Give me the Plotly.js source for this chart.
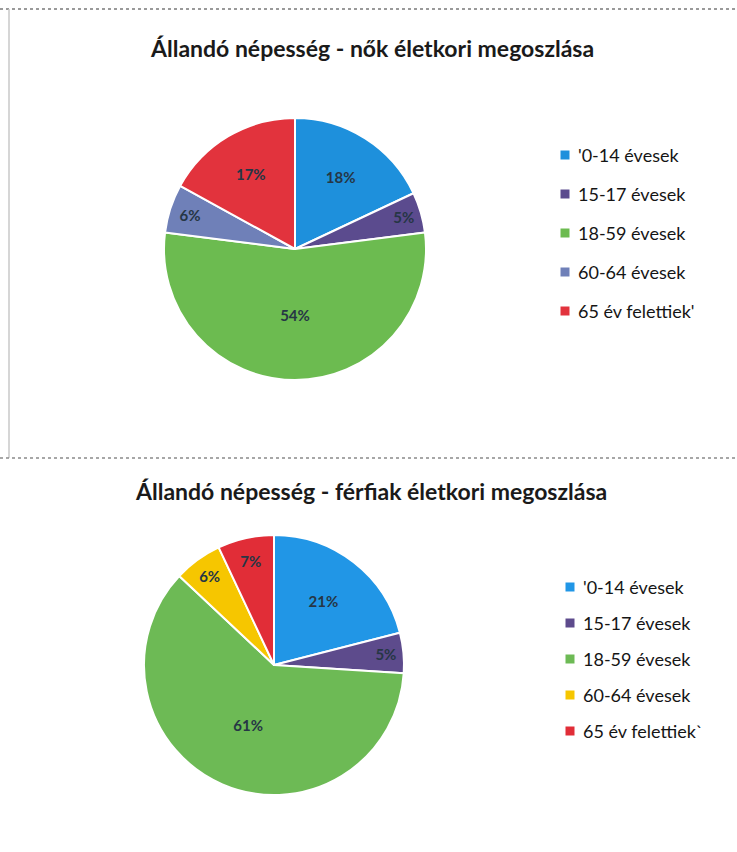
<!DOCTYPE html>
<html>
<head>
<meta charset="utf-8">
<script src="https://cdn.plot.ly/plotly-3.0.1.min.js"></script>
<style>html,body{margin:0;padding:0;background:#fff;}#chart{width:737px;height:852px;}</style>
</head>
<body>
<div id="chart"></div>
<script>
const categoriesWomen = ["'0-14 évesek", "15-17 évesek", "18-59 évesek", "60-64 évesek", "65 év felettiek'"];
const valuesWomen = [18, 5, 54, 6, 17];
const colorsWomen = ["#1e90dc", "#5b4b8e", "#6cbb50", "#6f80b8", "#e2333d"];

const categoriesMen = ["'0-14 évesek", "15-17 évesek", "18-59 évesek", "60-64 évesek", "65 év felettiek`"];
const valuesMen = [21, 5, 61, 6, 7];
const colorsMen = ["#2196e6", "#5d4b8c", "#6dba55", "#f6c600", "#e12d37"];

const titleWomen = "Állandó népesség - nők életkori megoszlása";
const titleMen = "Állandó népesség - férfiak életkori megoszlása";

const W = 737, H = 852;
const px = x => x / W;
const py = y => 1 - y / H;

function pieTrace(labels, values, colors, cx, cy, r) {
  return {
    type: 'pie', labels: labels, values: values, sort: false,
    direction: 'clockwise', rotation: 0,
    marker: {colors: colors, line: {color: '#ffffff', width: 2}},
    textinfo: 'percent', textposition: 'inside', insidetextorientation: 'horizontal',
    texttemplate: '<b>%{percent:.0%}</b>',
    textfont: {family: 'Lato, sans-serif', size: 15, color: '#263645'},
    showlegend: false, hoverinfo: 'label+percent',
    domain: {x: [px(cx - r), px(cx + r)], y: [py(cy + r), py(cy - r)]}
  };
}

const data = [
  pieTrace(categoriesWomen, valuesWomen, colorsWomen, 295, 249, 131),
  pieTrace(categoriesMen, valuesMen, colorsMen, 274, 665, 130)
];

const annotations = [
  {text: '<b>' + titleWomen + '</b>', x: px(372), y: py(48), xref: 'paper', yref: 'paper', showarrow: false,
   xanchor: 'center', yanchor: 'middle', font: {family: 'Lato, sans-serif', size: 23, color: '#1a1a1a'}},
  {text: '<b>' + titleMen + '</b>', x: px(371), y: py(491), xref: 'paper', yref: 'paper', showarrow: false,
   xanchor: 'center', yanchor: 'middle', font: {family: 'Lato, sans-serif', size: 23, color: '#1a1a1a'}}
];
const shapes = [];

function legend(labels, colors, mx, tx, y0, dy) {
  labels.forEach((lab, i) => {
    const y = y0 + i * dy;
    shapes.push({type: 'rect', xref: 'paper', yref: 'paper', x0: px(mx - 4.5), x1: px(mx + 4.5),
      y0: py(y + 4.5), y1: py(y - 4.5), fillcolor: colors[i], line: {width: 0}});
    annotations.push({text: lab, x: px(tx), y: py(y), xref: 'paper', yref: 'paper', showarrow: false,
      xanchor: 'left', yanchor: 'middle', font: {family: 'Lato, sans-serif', size: 18, color: '#151515'}});
  });
}
legend(categoriesWomen, colorsWomen, 565, 576, 155, 39);
legend(categoriesMen, colorsMen, 570, 581, 587, 36);

// scanned frame around first chart
shapes.push({type: 'line', xref: 'paper', yref: 'paper', x0: px(0), x1: px(737), y0: py(9), y1: py(9), line: {color: '#7a7a7a', width: 1.5, dash: 'dot'}});
shapes.push({type: 'line', xref: 'paper', yref: 'paper', x0: px(9), x1: px(9), y0: py(9), y1: py(458), line: {color: '#c8c8c8', width: 1.5}});
shapes.push({type: 'line', xref: 'paper', yref: 'paper', x0: px(0), x1: px(737), y0: py(458), y1: py(458), line: {color: '#8a8a8a', width: 1.5, dash: 'dot'}});

const layout = {
  width: W, height: H, margin: {l: 0, r: 0, t: 0, b: 0},
  paper_bgcolor: '#ffffff', plot_bgcolor: '#ffffff',
  showlegend: false, annotations: annotations, shapes: shapes,
  font: {family: 'Lato, sans-serif'}
};
Plotly.newPlot('chart', data, layout, {displayModeBar: false, staticPlot: true});
</script>
</body>
</html>
